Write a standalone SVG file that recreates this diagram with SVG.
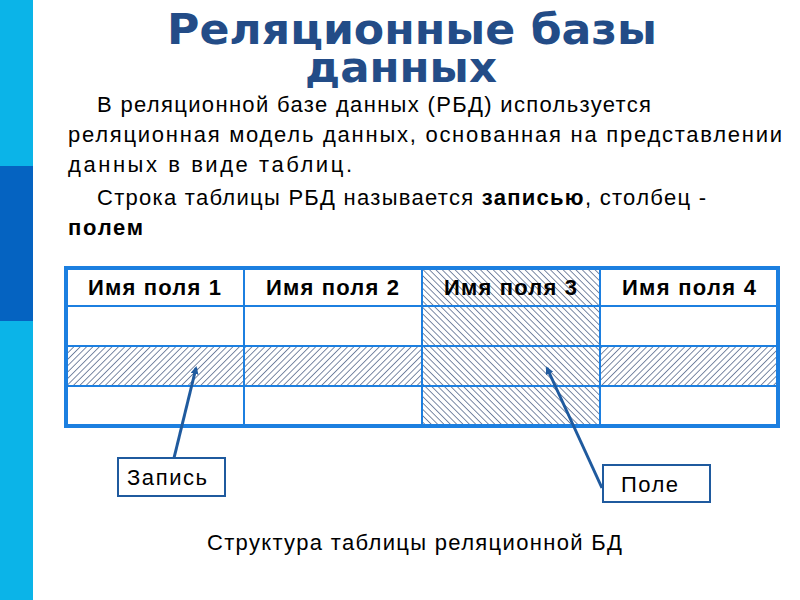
<svg xmlns="http://www.w3.org/2000/svg" width="800" height="600" viewBox="0 0 800 600">
<style>
.t{font-family:"Liberation Sans",Arial,sans-serif;font-size:22px;fill:#000}
.h{font-family:"Liberation Sans",Arial,sans-serif;font-size:22px;font-weight:bold;fill:#000}
.title{font-family:"DejaVu Sans",sans-serif;font-size:43px;font-weight:bold;fill:#234c87}
.grid{stroke:#1c7fe0;stroke-width:2;fill:none}
.box{fill:#fff;stroke:#1f5a9e;stroke-width:2}
.arr{stroke:#1f5a9e;stroke-width:3;fill:none;marker-end:url(#ah)}
</style>
<defs>
<pattern id="fwd" width="4.5" height="4.5" patternUnits="userSpaceOnUse" patternTransform="rotate(45)">
<line x1="0" y1="0" x2="0" y2="4.5" stroke="#0f2a5c" stroke-width="1.1"/>
</pattern>
<pattern id="bwd" width="4.5" height="4.5" patternUnits="userSpaceOnUse" patternTransform="rotate(-45)">
<line x1="0" y1="0" x2="0" y2="4.5" stroke="#0f2a5c" stroke-width="1.1"/>
</pattern>
<marker id="ah" markerWidth="10" markerHeight="10" refX="6" refY="4" orient="auto" markerUnits="userSpaceOnUse">
<path d="M0,0 L8,4 L0,8 Z" fill="#1f5a9e"/>
</marker>
</defs>
<rect width="800" height="600" fill="#fff"/>
<rect x="0" y="0" width="33" height="600" fill="#0bb4e8"/>
<rect x="0" y="166" width="33" height="155" fill="#0563c1"/>
<text class="title" x="167" y="44" textLength="490" lengthAdjust="spacingAndGlyphs">Реляционные базы</text>
<text class="title" x="305" y="82" textLength="192" lengthAdjust="spacingAndGlyphs">данных</text>
<text class="t" x="97" y="112" textLength="554">В реляционной базе данных (РБД) используется</text>
<text class="t" x="68" y="142" textLength="714">реляционная модель данных, основанная на представлении</text>
<text class="t" x="68" y="172" textLength="284">данных в виде таблиц.</text>
<text class="t" x="97" y="205" textLength="609">Строка таблицы РБД называется <tspan font-weight="bold">записью</tspan>, столбец -</text>
<text class="t" x="68" y="235" font-weight="bold" textLength="75">полем</text>
<g id="table">
<rect x="66" y="346" width="712" height="40" fill="#fff"/>
<rect x="66" y="346" width="712" height="40" fill="url(#fwd)"/>
<rect x="422" y="268" width="178" height="158" fill="#fff"/>
<rect x="422" y="268" width="178" height="158" fill="url(#bwd)"/>
<path class="grid" d="M66,306H778M66,346H778M66,386H778M244,268V426M422,268V426M600,268V426"/>
<rect x="66" y="268" width="712" height="158" fill="none" stroke="#1c7fe0" stroke-width="4"/>
<text class="h" x="88" y="295" textLength="133">Имя поля 1</text>
<text class="h" x="266" y="295" textLength="133">Имя поля 2</text>
<text class="h" x="444" y="295" textLength="133">Имя поля 3</text>
<text class="h" x="622" y="295" textLength="134">Имя поля 4</text>
</g>
<g id="connectors">
<line class="arr" x1="174" y1="458" x2="196" y2="368"/>
<line class="arr" x1="602" y1="488" x2="547" y2="368"/>
</g>
<g id="zapis">
<rect class="box" x="118" y="458" width="107" height="38"/>
<text class="t" x="127" y="485" textLength="80">Запись</text>
</g>
<g id="pole">
<rect class="box" x="603" y="465" width="107" height="37"/>
<text class="t" x="621" y="492" textLength="57">Поле</text>
</g>
<text class="t" x="207" y="550" textLength="415">Структура таблицы реляционной БД</text>
</svg>
